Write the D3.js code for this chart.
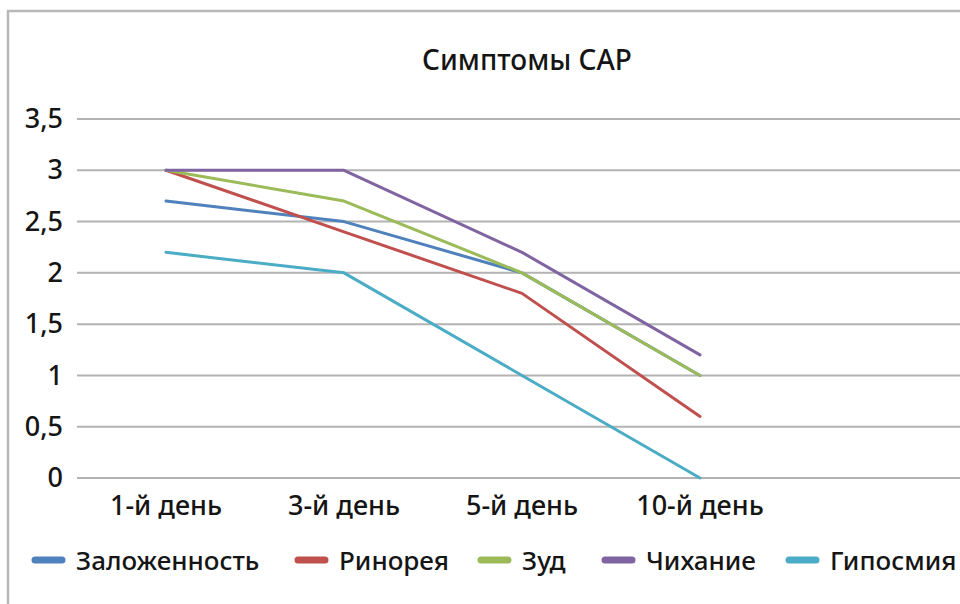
<!DOCTYPE html>
<html>
<head>
<meta charset="utf-8">
<script src="https://cdn.jsdelivr.net/npm/d3@7"></script>
<style>
  html, body { margin: 0; padding: 0; background: #fff; }
  svg { display: block; font-family: "Noto Sans", "DejaVu Sans", sans-serif; }
</style>
</head>
<body>
<svg id="chart" width="960" height="604"></svg>
<script>
// Symptom scores by day of treatment
const categories = ["1-й день", "3-й день", "5-й день", "10-й день"];
const seriesNames = ["Заложенность", "Ринорея", "Зуд", "Чихание", "Гипосмия"];
const zalozhennost = [2.7, 2.5, 2.0, 1.0];
const rinoreya     = [3.0, 2.4, 1.8, 0.6];
const zud          = [3.0, 2.7, 2.0, 1.0];
const chikhanie    = [3.0, 3.0, 2.2, 1.2];
const giposmiya    = [2.2, 2.0, 1.0, 0.0];
const yTicks = [0, 0.5, 1, 1.5, 2, 2.5, 3, 3.5];
const colors = ["#4F81BD", "#C0504D", "#9BBB59", "#8064A2", "#4BACC6"];
const title = "Симптомы САР";

const series = [zalozhennost, rinoreya, zud, chikhanie, giposmiya].map((v, i) => ({
  name: seriesNames[i], values: v, color: colors[i]
}));

const svg = d3.select("#chart");
const ink = "#151515";

// chart frame
svg.append("rect")
  .attr("x", 8).attr("y", 11).attr("width", 980).attr("height", 620)
  .attr("fill", "#fff").attr("stroke", "#b8b8b8").attr("stroke-width", 2.5);

const plotLeft = 77, plotRight = 967, plotTop = 119, plotBottom = 478;

// one extra empty slot keeps the category spacing of the original layout
const x = d3.scaleBand().domain(categories.concat(["\u0000"])).range([plotLeft, plotRight]);
const y = d3.scaleLinear().domain([0, 3.5]).range([plotBottom, plotTop]);

// gridlines
svg.append("g").selectAll("line").data(yTicks).join("line")
  .attr("x1", plotLeft).attr("x2", 960)
  .attr("y1", d => y(d)).attr("y2", d => y(d))
  .attr("stroke", "#b3b3b3").attr("stroke-width", 2);

// y axis labels
const fmt = d => String(d).replace(".", ",");
const yAxis = d3.axisLeft(y).tickValues(yTicks).tickFormat(fmt).tickSize(0).tickPadding(14);
const ya = svg.append("g").attr("transform", `translate(${plotLeft},0)`).call(yAxis);
ya.select(".domain").remove();
ya.selectAll("text").attr("font-size", 27).attr("font-weight", 500).attr("fill", ink)
  .attr("font-family", "'Noto Sans', sans-serif");

// x axis labels
const xAxis = d3.axisBottom(x).tickValues(categories).tickSize(0).tickPadding(0);
const xa = svg.append("g").attr("transform", `translate(0,${plotBottom})`).call(xAxis);
xa.select(".domain").remove();
xa.selectAll("text").attr("font-size", 27).attr("font-weight", 500).attr("fill", ink)
  .attr("font-family", "'Noto Sans', sans-serif")
  .attr("dy", null).attr("y", 37);

// lines
const line = d3.line()
  .x((d, i) => x(categories[i]) + x.bandwidth() / 2)
  .y(d => y(d));
svg.append("g").selectAll("path").data(series).join("path")
  .attr("d", d => line(d.values))
  .attr("fill", "none")
  .attr("stroke", d => d.color)
  .attr("stroke-width", 3)
  .attr("stroke-linejoin", "round")
  .attr("stroke-linecap", "round");

// title
svg.append("text")
  .attr("x", 527).attr("y", 70)
  .attr("text-anchor", "middle")
  .attr("font-size", 28).attr("font-weight", 500).attr("fill", ink)
  .text(title);

// legend
const legendX = [32, 295, 478, 602, 786];
const lg = svg.append("g").selectAll("g").data(series).join("g")
  .attr("transform", (d, i) => `translate(${legendX[i]},560)`);
lg.append("line")
  .attr("x1", 3).attr("x2", 30).attr("y1", 0).attr("y2", 0)
  .attr("stroke", d => d.color).attr("stroke-width", 7).attr("stroke-linecap", "round");
lg.append("text")
  .attr("x", 44).attr("y", 10)
  .attr("font-size", 26).attr("font-weight", 500).attr("fill", ink)
  .text(d => d.name);
</script>
</body>
</html>
